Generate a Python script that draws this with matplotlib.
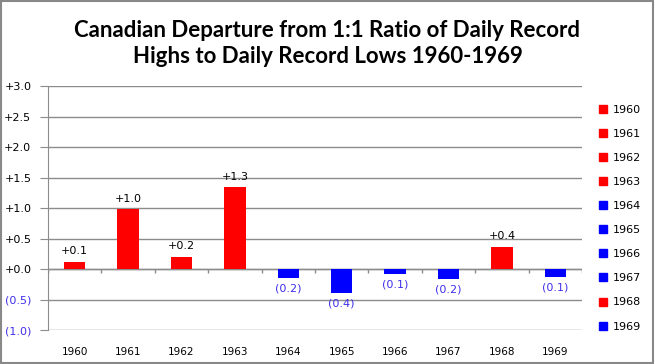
import numpy as np
import matplotlib.pyplot as plt
from matplotlib.lines import Line2D
from matplotlib.patches import Rectangle

years = ["1960", "1961", "1962", "1963", "1964", "1965", "1966", "1967", "1968", "1969"]
values = [0.12, 0.98, 0.20, 1.34, -0.15, -0.39, -0.08, -0.16, 0.36, -0.13]
value_labels = ["+0.1", "+1.0", "+0.2", "+1.3", "(0.2)", "(0.4)", "(0.1)", "(0.2)", "+0.4", "(0.1)"]
y_ticks = [-1.0, -0.5, 0.0, 0.5, 1.0, 1.5, 2.0, 2.5, 3.0]
y_tick_labels = ["(1.0)", "(0.5)", "+0.0", "+0.5", "+1.0", "+1.5", "+2.0", "+2.5", "+3.0"]

RED = "#ff0000"
BLUE = "#0000ff"
NEG_TEXT = "#3f2fe8"
GRID = "#8c8c8c"

fig = plt.figure(figsize=(6.55, 3.64), dpi=100)
ax = fig.add_axes([0.0733, 0.0934, 0.8152, 0.6703])

x = np.arange(len(years))
colors = [RED if v >= 0 else BLUE for v in values]
ax.bar(x, values, width=0.4, color=colors, zorder=3)

for xi, v, lab in zip(x, values, value_labels):
    if v >= 0:
        ax.annotate(lab, (xi, v), xytext=(0, 4), textcoords="offset points",
                    ha="center", va="bottom", fontsize=8, color="black")
    else:
        ax.annotate(lab, (xi, v), xytext=(0, -4), textcoords="offset points",
                    ha="center", va="top", fontsize=8, color=NEG_TEXT)

ax.set_xlim(-0.5, len(years) - 0.5)
ax.set_ylim(-1.0, 3.0)
ax.set_yticks(y_ticks)
ax.set_yticklabels(y_tick_labels, fontsize=8)
for t, v in zip(ax.get_yticklabels(), y_ticks):
    t.set_color(NEG_TEXT if v < 0 else "black")
ax.tick_params(axis="y", length=6, color=GRID, pad=6)
ax.grid(axis="y", color=GRID, linewidth=1, zorder=0)

ax.set_xticks(x)
ax.set_xticklabels(years, fontsize=7.5)
ax.tick_params(axis="x", length=0, pad=12)

# zero line with category separators
ax.axhline(0, color=GRID, linewidth=1, zorder=2)
bounds = np.arange(len(years) + 1) - 0.5
ax.vlines(bounds, -0.07, 0, color=GRID, linewidth=1, zorder=2)

for s in ["top", "right", "bottom"]:
    ax.spines[s].set_visible(False)
ax.spines["left"].set_color(GRID)

fig.suptitle("Canadian Departure from 1:1 Ratio of Daily Record\nHighs to Daily Record Lows 1960-1969",
             fontsize=16, fontweight="bold", family="Lato", y=0.945, va="top", linespacing=1.3)

handles = [Line2D([], [], marker="s", linestyle="none", color=c, markersize=6) for c in colors]
fig.legend(handles, years, loc="upper left", bbox_to_anchor=(0.905, 0.728), frameon=False,
           fontsize=8, labelspacing=1.27, handlelength=0.8, handletextpad=0.5, borderpad=0)

fig.patches.append(Rectangle((0.001, 0.002), 0.996, 0.995, transform=fig.transFigure,
                             fill=False, edgecolor="#888888", linewidth=1.5))

fig.savefig("out.png", dpi=100)
